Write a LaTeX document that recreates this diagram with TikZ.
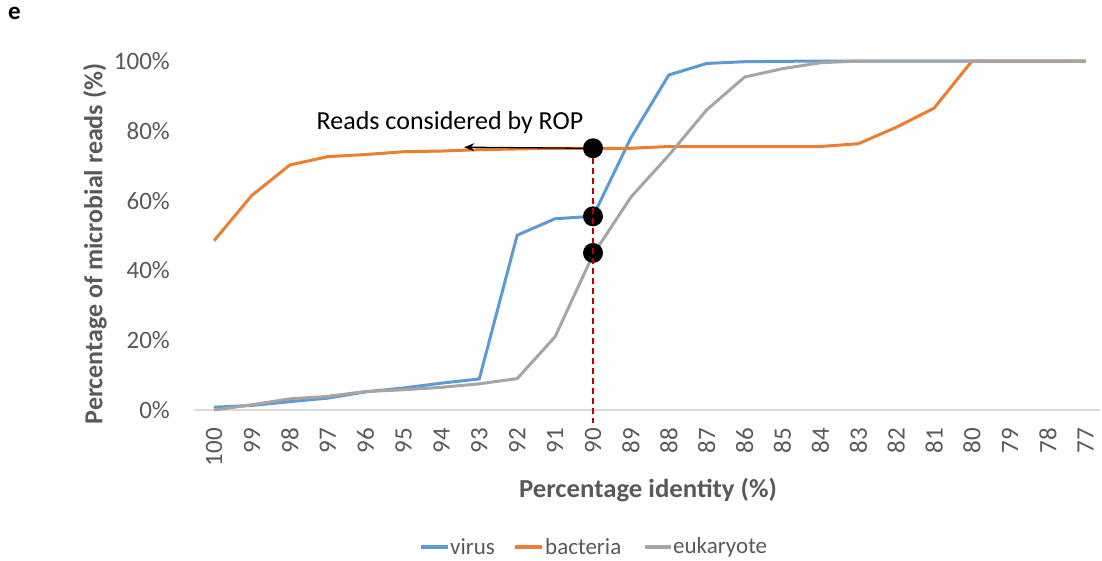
\documentclass[tikz,border=0pt]{standalone}
\usepackage{fontspec}
\setmainfont{Carlito}
\usetikzlibrary{arrows.meta}
\definecolor{virusblue}{HTML}{5B9BD5}
\definecolor{bactorange}{HTML}{ED7D31}
\definecolor{eukgray}{HTML}{A5A5A5}
\definecolor{labelgray}{HTML}{595959}
\definecolor{axisgray}{HTML}{D9D9D9}
\definecolor{dashred}{HTML}{C00000}
\tikzset{
  series/.style={line width=3pt, line join=round},
  ticklabel/.style={text=labelgray, font=\fontsize{25}{25}\selectfont, inner sep=0pt},
  axistitle/.style={text=labelgray, font=\fontsize{26}{26}\selectfont\bfseries, inner sep=0pt},
  legendtext/.style={text=labelgray, font=\fontsize{23}{23}\selectfont, inner sep=0pt, anchor=west},
  marker/.style={circle, fill=black, minimum size=20pt, inner sep=0pt},
}
\begin{document}
\begin{tikzpicture}[x=1pt, y=-1pt]
    \useasboundingbox (0,0) rectangle (1102,560);
    \node[anchor=north west, inner sep=0pt, font=\fontsize{25}{25}\selectfont\bfseries] (panel) at (8,7) {e};
    % axis and tick labels
    \draw[axisgray, line width=1.5pt] (195,410) -- (1100,410);
    \foreach \p in {0,20,...,100}
        \node[ticklabel, anchor=east] at (170,{410-3.49*\p}) {\p\%};
    \foreach \v in {100,99,...,77}
        \node[ticklabel, rotate=90, anchor=east] at ({214+(100-\v)*37.9},428) {\v};
    \node[axistitle, rotate=90] (ytitle) at (95,244) {Percentage of microbial reads (\%)};
    \node[axistitle, xscale=1.03] (xtitle) at (648,490) {Percentage identity (\%)};
    % series
    \begin{scope}[shift={(214,410)}, x=37.9pt, y=3.49pt]
        \draw[series, virusblue] plot coordinates {(0,0.8) (1,1.3) (2,2.4) (3,3.4) (4,5.2) (5,6.3) (6,7.7) (7,8.9) (8,50.1) (9,54.8) (10,55.5) (11,78) (12,96) (13,99.3) (14,99.8) (15,99.9) (16,100) (17,100) (18,100) (19,100) (20,100) (21,100) (22,100) (23,100)};
        \draw[series, bactorange] plot coordinates {(0,48.5) (1,61.5) (2,70.2) (3,72.6) (4,73.2) (5,74.0) (6,74.2) (7,74.6) (8,74.8) (9,75.0) (10,75.0) (11,75.0) (12,75.5) (13,75.5) (14,75.5) (15,75.5) (16,75.5) (17,76.3) (18,81.0) (19,86.5) (20,100) (21,100) (22,100) (23,100)};
        \draw[series, eukgray] plot coordinates {(0,0) (1,1.5) (2,3.2) (3,3.9) (4,5.3) (5,5.8) (6,6.5) (7,7.5) (8,9.0) (9,21.0) (10,44.5) (11,61) (12,73) (13,86) (14,95.4) (15,97.8) (16,99.5) (17,100) (18,100) (19,100) (20,100) (21,100) (22,100) (23,100)};
        % cut-off at 90
        \coordinate (cutend) at (10,-3.8);
        \node[marker] (bactdot) at (10,75) {};
        \node[marker] (virusdot) at (10,55.5) {};
        \node[marker] (eukdot) at (10,45) {};
        \coordinate (ropend) at (6.6,75.3);
        \draw[dashred, line width=1.5pt, dash pattern=on 6pt off 4pt] (bactdot.south) -- (cutend);
        \draw[-{Stealth[length=10pt, width=8pt]}, line width=1.3pt] (bactdot.west) -- (ropend);
    \end{scope}
    \node[font=\fontsize{26}{26}\selectfont, inner sep=0pt] (roptext) at (450,123) {Reads considered by ROP};
    % legend
    \draw[virusblue, line width=4pt] (421,547) -- (448,547);
    \node[legendtext] (virus) at (450,547) {virus};
    \draw[bactorange, line width=4pt] (515,547) -- (542,547);
    \node[legendtext] (bacteria) at (545,547) {bacteria};
    \draw[eukgray, line width=4pt] (645,547) -- (671,547);
    \node[legendtext] (eukaryote) at (673,547) {eukaryote};
\end{tikzpicture}
\end{document}
